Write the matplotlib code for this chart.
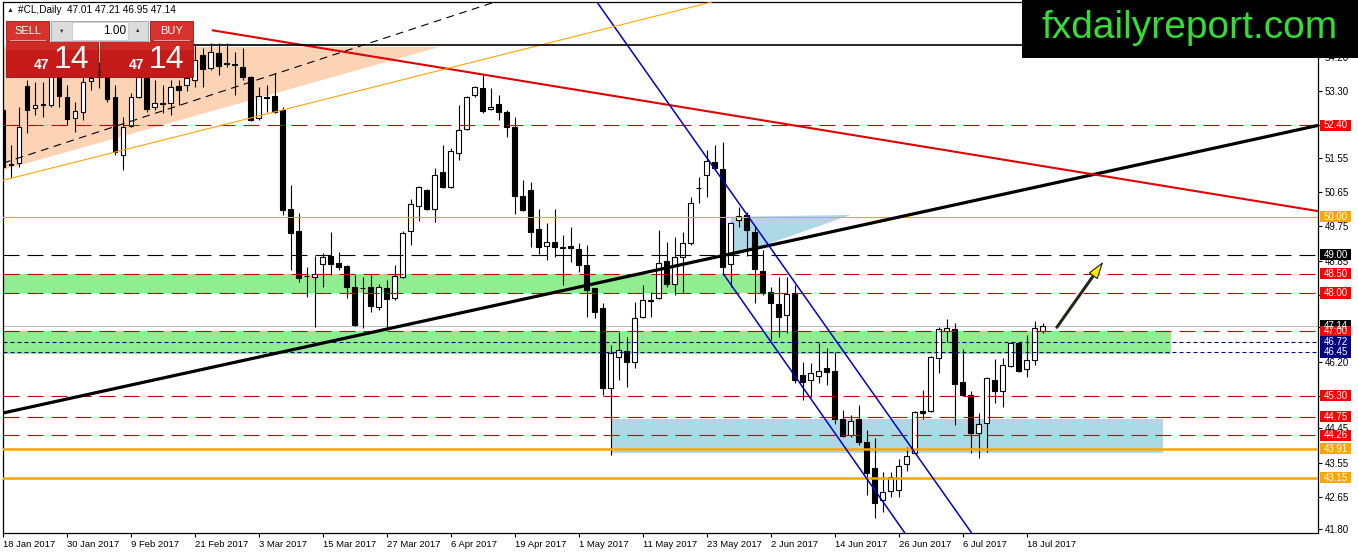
import numpy as np
import matplotlib.pyplot as plt
from matplotlib.patches import Rectangle, Polygon
from matplotlib.transforms import blended_transform_factory

plt.rcParams['font.family'] = ['Liberation Sans', 'DejaVu Sans']

# ---- data: #CL daily candles, 18 Jan 2017 .. 20 Jul 2017 ----
date_labels = ['18 Jan 2017', '30 Jan 2017', '9 Feb 2017', '21 Feb 2017', '3 Mar 2017',
               '15 Mar 2017', '27 Mar 2017', '6 Apr 2017', '19 Apr 2017', '1 May 2017',
               '11 May 2017', '23 May 2017', '2 Jun 2017', '14 Jun 2017', '26 Jun 2017',
               '6 Jul 2017', '18 Jul 2017']

opens = [52.80, 51.36, 51.41, 53.43, 52.86, 52.93, 52.93, 53.90, 53.14, 52.59,
         52.75, 53.56, 53.85, 53.80, 53.14, 51.62, 52.38, 53.14, 53.64, 52.88,
         52.99, 52.99, 53.43, 53.46, 53.59, 54.25, 53.90, 54.30, 54.04, 54.01,
         53.93, 53.67, 52.59, 53.14, 53.17, 52.80, 50.20, 49.63, 48.45, 48.42,
         48.76, 48.98, 48.79, 48.71, 48.16, 48.13, 48.16, 47.63, 48.13, 47.87,
         48.42, 49.63, 50.28, 50.70, 50.20, 51.18, 50.78, 51.67, 52.30, 53.20,
         53.38, 52.83, 52.96, 52.75, 52.36, 50.54, 50.70, 49.68, 49.23, 49.34,
         49.21, 49.23, 49.15, 48.73, 48.13, 47.60, 45.50, 46.32, 46.48, 46.19,
         47.37, 47.79, 47.87, 48.84, 48.23, 48.94, 49.31, 50.76, 51.10, 51.44,
         51.25, 48.76, 49.92, 50.05, 49.60, 48.58, 48.02, 47.71, 47.42, 48.00,
         45.85, 45.71, 45.82, 46.03, 45.95, 44.69, 44.27, 44.69, 44.09, 43.40,
         42.56, 42.80, 42.83, 43.51, 43.80, 44.90, 44.90, 46.29, 47.00, 47.05,
         45.66, 45.32, 44.32, 44.59, 45.71, 45.43, 46.08, 46.69, 46.00, 46.24,
         47.01]
highs = [52.93, 51.88, 52.88, 53.59, 53.54, 53.54, 53.90, 54.11, 53.46, 53.01,
         53.67, 53.69, 54.06, 53.98, 53.46, 52.62, 53.25, 53.85, 53.80, 53.59,
         53.46, 53.59, 53.59, 53.85, 54.51, 54.43, 54.56, 54.56, 54.56, 54.32,
         54.43, 53.70, 53.41, 53.46, 53.77, 52.88, 50.83, 50.10, 48.68, 48.98,
         49.05, 49.60, 49.09, 48.73, 48.47, 48.42, 48.47, 48.24, 48.34, 48.73,
         49.63, 50.47, 50.81, 50.72, 51.28, 51.88, 51.80, 52.93, 53.17, 53.43,
         53.72, 53.38, 53.20, 52.80, 52.62, 50.97, 50.91, 50.20, 49.84, 50.20,
         49.52, 49.73, 49.31, 49.26, 48.14, 47.74, 46.63, 46.97, 46.84, 47.76,
         48.21, 48.02, 49.65, 49.34, 49.47, 49.60, 50.52, 51.04, 51.75, 51.88,
         51.96, 49.86, 50.26, 50.12, 49.73, 49.13, 48.16, 48.42, 48.42, 48.21,
         46.19, 46.16, 46.69, 46.55, 46.45, 44.93, 44.80, 45.06, 44.40, 44.19,
         43.30, 43.30, 43.64, 43.96, 44.90, 45.45, 46.35, 47.11, 47.32, 47.21,
         46.53, 45.43, 44.85, 45.79, 46.27, 46.29, 46.71, 46.71, 46.90, 47.27,
         47.21]
lows = [50.97, 51.02, 51.31, 52.20, 52.67, 52.62, 52.88, 52.88, 52.41, 52.22,
        52.54, 53.33, 53.38, 53.01, 51.62, 51.23, 52.36, 53.12, 52.75, 52.80,
        52.72, 52.67, 52.93, 53.30, 53.41, 53.41, 53.85, 53.72, 53.93, 53.20,
        53.59, 52.52, 52.54, 52.75, 52.73, 50.05, 48.60, 48.29, 47.89, 47.11,
        48.16, 48.47, 48.60, 47.86, 47.14, 47.08, 47.50, 47.55, 47.03, 47.82,
        48.39, 49.26, 49.89, 50.18, 49.86, 50.76, 50.76, 51.49, 52.28, 53.14,
        52.72, 52.80, 52.54, 52.09, 50.07, 50.16, 49.21, 49.02, 48.87, 48.94,
        48.21, 48.81, 48.55, 47.37, 47.34, 45.32, 43.75, 45.72, 45.53, 46.03,
        47.34, 47.37, 47.85, 48.16, 47.96, 48.02, 49.26, 50.36, 50.52, 51.23,
        48.47, 48.16, 49.73, 48.98, 47.74, 47.95, 46.77, 46.84, 46.95, 45.64,
        45.19, 45.27, 45.64, 45.58, 44.56, 44.22, 44.22, 44.01, 42.70, 42.09,
        42.25, 42.64, 42.64, 43.33, 43.78, 44.69, 44.87, 45.90, 46.71, 44.53,
        45.30, 43.80, 43.67, 43.82, 45.11, 45.01, 46.06, 45.92, 45.79, 46.11,
        46.95]
closes = [51.31, 51.40, 52.36, 52.80, 52.93, 52.95, 53.72, 53.17, 52.57, 52.78,
          53.54, 53.64, 53.67, 53.09, 51.70, 52.36, 53.14, 53.67, 52.83, 52.99,
          52.97, 53.41, 53.33, 53.64, 54.12, 53.88, 54.33, 53.96, 54.02, 53.99,
          53.67, 52.54, 53.17, 53.12, 52.75, 50.18, 49.57, 48.39, 48.44, 48.50,
          48.94, 48.76, 48.68, 48.16, 47.16, 48.12, 47.66, 48.16, 47.84, 48.45,
          49.57, 50.34, 50.78, 50.20, 51.10, 50.78, 51.73, 52.28, 53.14, 53.41,
          52.78, 52.88, 52.75, 52.36, 50.54, 50.18, 49.60, 49.21, 49.34, 49.21,
          49.19, 49.19, 48.73, 48.08, 47.50, 45.50, 46.42, 46.50, 46.19, 47.34,
          47.82, 47.81, 48.79, 48.23, 48.94, 49.31, 50.36, 50.75, 51.46, 51.28,
          48.68, 49.84, 50.01, 49.65, 48.63, 48.00, 47.74, 47.37, 47.97, 45.71,
          45.66, 45.90, 45.95, 45.92, 44.69, 44.25, 44.64, 44.09, 43.27, 42.48,
          42.77, 43.17, 43.46, 43.72, 44.87, 44.84, 46.32, 47.05, 47.08, 45.61,
          45.32, 44.32, 44.56, 45.77, 45.43, 46.11, 46.69, 45.95, 46.24, 47.08,
          47.14]

price_ticks = [54.20, 53.30, 52.40, 51.55, 50.65, 49.75, 48.85, 47.95, 47.10,
               46.20, 45.30, 44.45, 43.55, 42.65, 41.80]
hidden_ticks = [52.40, 47.95, 47.10]   # covered by the price tags

levels = [52.40, 50.00, 49.00, 48.50, 48.00, 47.00, 46.72, 46.45, 45.30, 44.75, 44.26, 43.91, 43.15]
level_kind = ['res', 'round', 'pivot', 'res', 'res', 'res', 'zone', 'zone', 'res', 'res', 'res', 'sup', 'sup']
bid = 47.14

# drawn objects, in (bar index, price)
black_trend = [(0, 44.85), (164.4, 52.40)]
red_trend = [(26.1, 54.90), (164.4, 50.15)]
channel_upper = [(74.25, 55.64), (121.1, 41.70)]
channel_lower = [(90.0, 48.52), (112.75, 41.70)]
orange_trend = [(0, 50.96), (88.6, 55.64)]
dashed_mid = [(0, 51.41), (61.5, 55.64)]
top_line = [(20, 54.51), (164.4, 54.51)]
green_zones = [(0, 95, 48.00, 48.50), (0, 146, 46.40, 47.00)]
blue_box = (76, 145, 43.80, 44.70)
blue_tri = [(91, 50.00), (106, 50.05), (91, 48.95)]
peach_tri = [(0, 54.46), (54.6, 54.46), (0, 51.23)]
arrow_from = (131.75, 47.10)
arrow_to = (137.75, 48.88)

W, H = 1358, 554
fig = plt.figure(figsize=(W / 100, H / 100), dpi=100)
ax = fig.add_axes([3 / W, 1 - 533 / H, 1315 / W, 531 / H])
ax.set_xlim(0, 164.4)
ax.set_ylim(41.70, 55.64)

o = np.array(opens); h = np.array(highs); l = np.array(lows); c = np.array(closes)
idx = np.arange(len(o))

# background objects
for x0, x1, y0, y1 in green_zones:
    ax.add_patch(Rectangle((x0, y0), x1 - x0, y1 - y0, fc='#90ee90', ec='none', zorder=1))
bx0, bx1, by0, by1 = blue_box
ax.add_patch(Rectangle((bx0, by0), bx1 - bx0, by1 - by0, fc='#add8e6', ec='none', zorder=1))
ax.add_patch(Polygon(blue_tri, closed=True, fc='#add8e6', ec='none', zorder=1))
ax.add_patch(Polygon(peach_tri, closed=True, fc='#fdd3b5', ec='none', zorder=1))
ax.axhline(bid, color='#c0c0c0', lw=0.8, zorder=1.5)

# candles
up = c >= o
ax.vlines(idx, l, h, color='black', lw=0.8, zorder=3)
body_lo = np.minimum(o, c)
body_h = np.maximum(np.abs(c - o), 0.012)
ax.bar(idx[up], body_h[up], 0.62, bottom=body_lo[up], color='white', edgecolor='black', lw=0.8, zorder=4)
ax.bar(idx[~up], body_h[~up], 0.62, bottom=body_lo[~up], color='black', edgecolor='black', lw=0.8, zorder=4)

# horizontal levels
styles = {
    'res': dict(color='#cc0000', lw=0.8, dashes=(14.4, 7.2)),
    'round': dict(color='#ffa500', lw=0.8),
    'pivot': dict(color='black', lw=0.8, dashes=(14.4, 7.2)),
    'zone': dict(color='#000080', lw=0.8, dashes=(3.6, 2.7)),
    'sup': dict(color='#ffa500', lw=1.8),
}
box_col = {'res': '#ff0000', 'round': '#ffa500', 'pivot': 'black', 'zone': '#000080', 'sup': '#ffa500'}
for lv, k in zip(levels, level_kind):
    ax.axhline(lv, zorder=5, **styles[k])

# trend lines
def seg(pts, **kw):
    (x0, y0), (x1, y1) = pts
    ax.plot([x0, x1], [y0, y1], zorder=6, solid_capstyle='butt', **kw)

seg(black_trend, color='black', lw=2.3)
seg(red_trend, color='#e00000', lw=1.5)
seg(channel_upper, color='#0000cc', lw=1.1)
seg(channel_lower, color='#0000cc', lw=1.1)
seg(orange_trend, color='#ffa500', lw=0.8)
seg(dashed_mid, color='black', lw=0.8, dashes=(7, 5))
seg(top_line, color='black', lw=1.2)

# arrow: dark shaft, yellow head
ax.plot([arrow_from[0], arrow_from[0] + 0.8 * (arrow_to[0] - arrow_from[0])],
        [arrow_from[1], arrow_from[1] + 0.8 * (arrow_to[1] - arrow_from[1])],
        color='#2a2a10', lw=2.2, solid_capstyle='round', zorder=7)
ax.annotate('', xy=arrow_to, xytext=arrow_from, zorder=8,
            arrowprops=dict(arrowstyle='-|>,head_length=1.1,head_width=0.35',
                            fc='#ffee00', ec='#222222', lw=0.8))

# axes, ticks
for s in ax.spines.values():
    s.set_color('black'); s.set_linewidth(0.9)
ax.set_xticks(idx[::8][:len(date_labels)])
ax.set_xticklabels(date_labels, ha='left', fontsize=6.8)
ax.yaxis.tick_right()
ax.set_yticks(price_ticks)
ax.set_yticklabels(['' if t in hidden_ticks else f'{t:.2f}' for t in price_ticks], fontsize=7)
ax.tick_params(axis='both', direction='out', length=3, width=0.8, pad=2)
ax.tick_params(axis='y', right=True, left=False)

# price tags on the right scale
tr = blended_transform_factory(ax.transAxes, ax.transData)
bw = 31 / 1315
tags = [(bid, 'black')] + [(lv, box_col[k]) for lv, k in zip(levels, level_kind)]
for lv, col in tags:
    ax.add_patch(Rectangle((1 + 2 / 1315, lv - 0.145), bw, 0.29, transform=tr,
                           fc=col, ec='none', clip_on=False, zorder=8))
    ax.text(1 + 2 / 1315 + bw / 2, lv, f'{lv:.2f}', transform=tr, ha='center', va='center',
            fontsize=7, color='white', clip_on=False, zorder=9)

# ---- overlay: header text, trade panel, watermark ----
ov = fig.add_axes([0, 0, 1, 1], zorder=10)
ov.set_xlim(0, W); ov.set_ylim(H, 0); ov.axis('off'); ov.patch.set_alpha(0)

ov.text(10, 10, '▲', fontsize=5, va='center', ha='center', color='#222222')
ov.text(18, 10, '#CL,Daily  47.01 47.21 46.95 47.14', fontsize=7.2, va='center', color='black')

red_top, red_main = '#d8322e', '#c41a1a'
ov.add_patch(Rectangle((6, 21), 43, 20, fc=red_top, ec='#a01010', lw=0.6))
ov.add_patch(Rectangle((150, 21), 43, 20, fc=red_top, ec='#a01010', lw=0.6))
ov.text(27.5, 31, 'SELL', color='white', fontsize=8, ha='center', va='center')
ov.text(171.5, 31, 'BUY', color='white', fontsize=8, ha='center', va='center')
ov.plot([10, 45], [40, 40], color='#f0b0b0', lw=0.6)
ov.plot([154, 189], [40, 40], color='#f0b0b0', lw=0.6)
ov.add_patch(Rectangle((51, 21), 97, 20, fc='#dcdcdc', ec='#a0a0a0', lw=0.6))
ov.add_patch(Rectangle((72, 22), 56, 18, fc='white', ec='#c0c0c0', lw=0.5))
ov.text(61.5, 31, '▼', fontsize=4, ha='center', va='center', color='#333333')
ov.text(138, 31, '▲', fontsize=4, ha='center', va='center', color='#333333')
ov.text(126, 31, '1.00', fontsize=8.5, ha='right', va='center', color='black')
ov.add_patch(Rectangle((6, 42), 92, 35, fc=red_main, ec='#9a1010', lw=0.6))
ov.add_patch(Rectangle((100, 42), 93, 35, fc=red_main, ec='#9a1010', lw=0.6))
ov.add_patch(Rectangle((6, 42), 92, 8, fc='#cf2a26', ec='none'))
ov.add_patch(Rectangle((100, 42), 93, 8, fc='#cf2a26', ec='none'))
ov.text(49, 65, '47', color='white', fontsize=10, fontweight='bold', ha='right', va='center')
ov.text(54, 60, '14', color='white', fontsize=23, ha='left', va='center')
ov.text(144, 65, '47', color='white', fontsize=10, fontweight='bold', ha='right', va='center')
ov.text(149, 60, '14', color='white', fontsize=23, ha='left', va='center')

ov.add_patch(Rectangle((1022, 0), 336, 58, fc='black', ec='none'))
ov.text(1190, 28, 'fxdailyreport.com', color='#33dd33', fontsize=28, ha='center', va='center')

fig.savefig('out.png', dpi=100)
